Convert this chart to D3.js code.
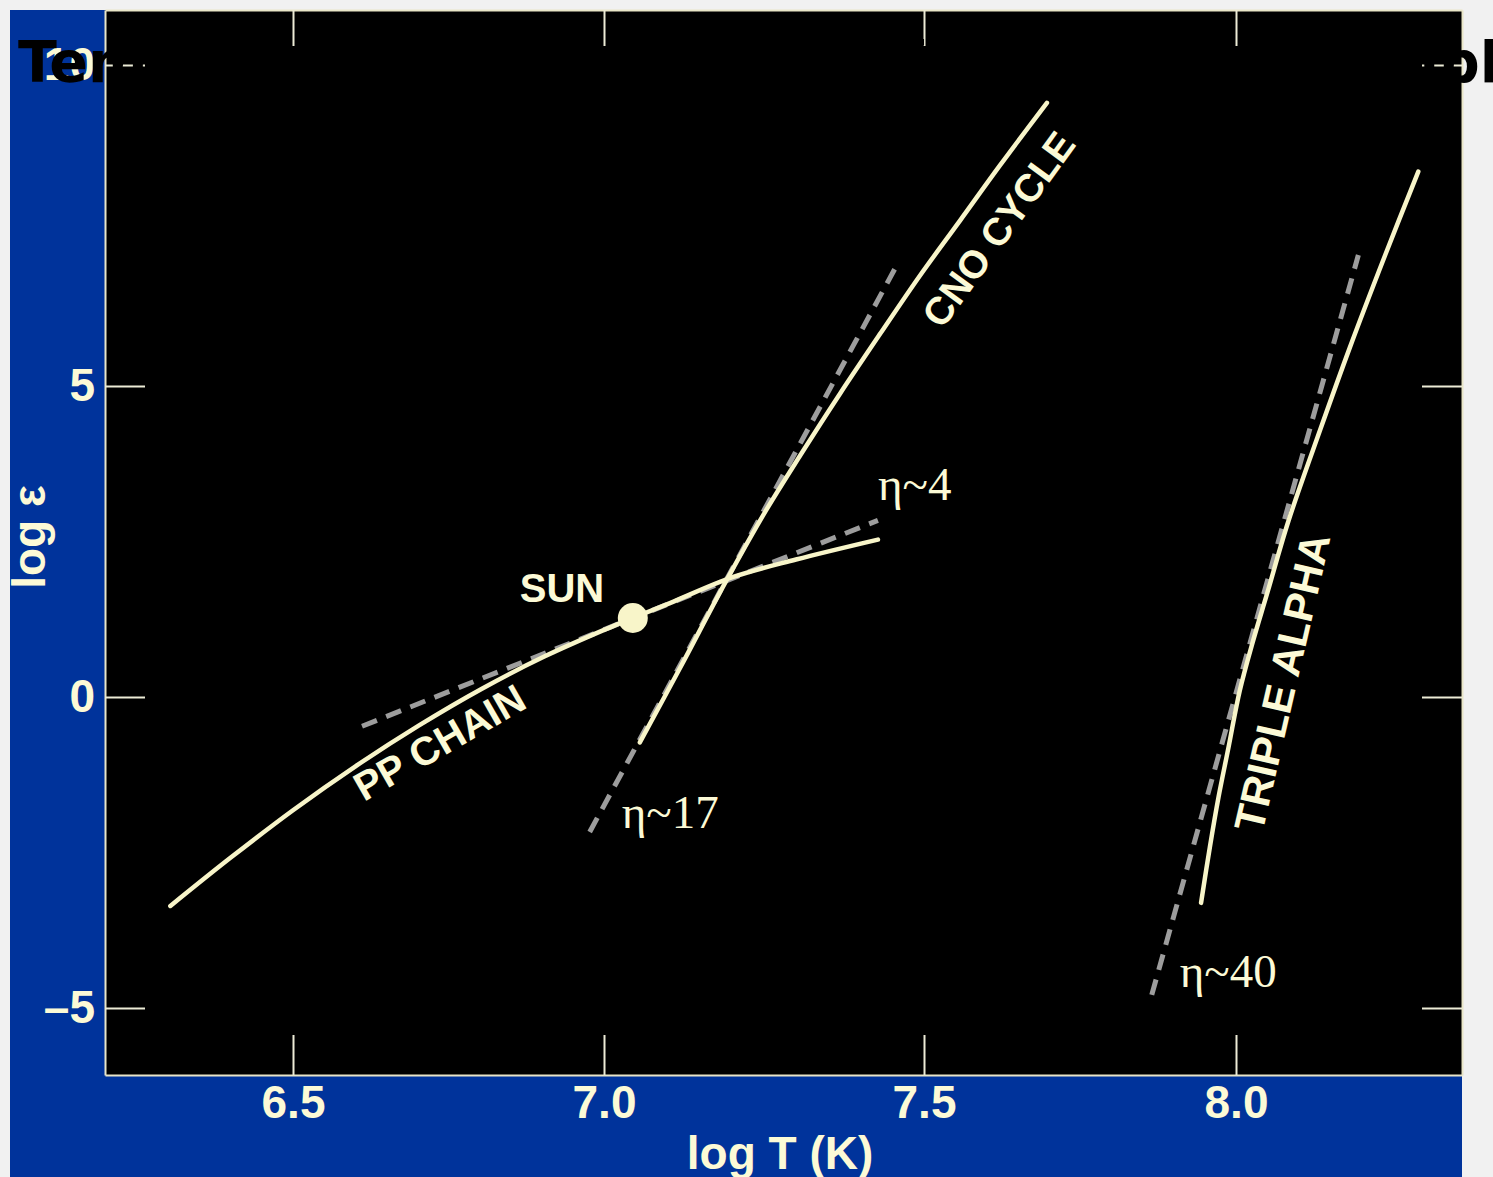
<!DOCTYPE html>
<html>
<head>
<meta charset="utf-8">
<script src="https://cdn.jsdelivr.net/npm/d3@7"></script>
<style>
  html, body { margin: 0; padding: 0; background: #f1f1f1; overflow: hidden; }
  svg { display: block; }
</style>
</head>
<body>
<svg id="chart" width="1493" height="1177"></svg>
<script>
// ---- values: log T (K) vs log epsilon ----
const ppLogT  = [6.303, 6.399, 6.50, 6.601, 6.702, 6.803, 6.904, 7.005, 7.045, 7.103, 7.202, 7.300, 7.428];
const ppLogE  = [-3.36, -2.59, -1.82, -1.11, -0.46, 0.13, 0.65, 1.10, 1.27, 1.51, 1.93, 2.21, 2.53];

const cnoLogT = [7.056, 7.119, 7.189, 7.252, 7.307, 7.369, 7.432, 7.493, 7.558, 7.622, 7.697];
const cnoLogE = [-0.73, 0.47, 1.83, 2.98, 3.89, 4.88, 5.82, 6.71, 7.58, 8.44, 9.41];

const taLogT  = [7.944, 7.958, 7.972, 7.988, 8.006, 8.027, 8.050, 8.084, 8.135, 8.182, 8.239, 8.292];
const taLogE  = [-3.31, -2.42, -1.61, -0.81, 0.10, 0.89, 1.67, 2.83, 4.30, 5.59, 7.04, 8.34];

// power-law tangents (log eps ~ eta * log T)
const ppFitT  = [6.611, 7.428]; const ppFitE  = [-0.47, 2.84];
const cnoFitT = [6.977, 7.458]; const cnoFitE = [-2.17, 6.89];
const taFitT  = [7.865, 8.196]; const taFitE  = [-4.79, 7.04];

const sunLogT = 7.045, sunLogE = 1.27;

const xTicks = [6.5, 7.0, 7.5, 8.0];
const xTickLabels = ["6.5", "7.0", "7.5", "8.0"];
const yTicks = [-5, 0, 5, 10];
const yTickLabels = ["\u20135", "0", "5", "10"];

const etaLabels = ["\u03b7~4", "\u03b7~17", "\u03b7~40"];
const curveNames = ["PP CHAIN", "CNO CYCLE", "TRIPLE ALPHA"];

// ---- drawing ----
const svg = d3.select("#chart");
const cream = "#f8f5c9";
const creamText = "#fcfad6";
const dashGrey = "#9d9d9d";
const sans = "'Liberation Sans', Arial, Helvetica, sans-serif";
const serif = "'Liberation Serif', 'Times New Roman', serif";

const plot = { left: 105, top: 10, right: 1462, bottom: 1075 };

// the printed axes are slightly uneven, so the scales are piecewise linear
const x = d3.scaleLinear()
  .domain([6.198, 6.5, 7.0, 7.5, 8.0, 8.362])
  .range([plot.left, 293, 604, 924, 1236, plot.right]);
const y = d3.scaleLinear()
  .domain([-6.077, -5, 0, 5, 10, 10.857])
  .range([plot.bottom, 1008, 697, 386, 65, plot.top]);

// blue backing panel
svg.append("rect")
  .attr("x", 10).attr("y", 10).attr("width", 1452).attr("height", 1167)
  .attr("fill", "#00339b");

// black plotting area
svg.append("rect")
  .attr("x", plot.left).attr("y", plot.top)
  .attr("width", plot.right - plot.left).attr("height", plot.bottom - plot.top)
  .attr("fill", "#000");

// axes with inward ticks on all four sides
function styleAxis(g) {
  g.select(".domain").attr("stroke", "#e9e6c8").attr("stroke-width", 2);
  g.selectAll(".tick line").attr("stroke", "#ecebd6").attr("stroke-width", 2);
  g.selectAll(".tick text")
    .attr("fill", creamText)
    .attr("font-family", sans)
    .attr("font-weight", "bold")
    .attr("font-size", 46);
}

svg.append("g")
  .attr("transform", `translate(0,${plot.bottom})`)
  .call(d3.axisBottom(x).tickValues(xTicks)
        .tickFormat((d, i) => xTickLabels[i])
        .tickSizeInner(-40).tickSizeOuter(0).tickPadding(10))
  .call(styleAxis);

svg.append("g")
  .attr("transform", `translate(0,${plot.top})`)
  .call(d3.axisTop(x).tickValues(xTicks).tickFormat("")
        .tickSizeInner(-36).tickSizeOuter(0))
  .call(styleAxis);

svg.append("g")
  .attr("transform", `translate(${plot.left},0)`)
  .call(d3.axisLeft(y).tickValues(yTicks)
        .tickFormat((d, i) => yTickLabels[i])
        .tickSizeInner(-40).tickSizeOuter(0).tickPadding(10))
  .call(styleAxis);

svg.append("g")
  .attr("transform", `translate(${plot.right},0)`)
  .call(d3.axisRight(y).tickValues(yTicks).tickFormat("")
        .tickSizeInner(-40).tickSizeOuter(0))
  .call(styleAxis);

// axis titles
svg.append("text")
  .attr("x", 780).attr("y", 1169)
  .attr("text-anchor", "middle")
  .attr("fill", creamText)
  .attr("font-family", sans).attr("font-weight", "bold").attr("font-size", 46)
  .text("log T (K)");

svg.append("text")
  .attr("transform", "translate(45,537) rotate(-90)")
  .attr("text-anchor", "middle")
  .attr("fill", creamText)
  .attr("font-family", sans).attr("font-weight", "bold").attr("font-size", 46)
  .text("log \u03b5");

// curves
const zip = (a, b) => a.map((v, i) => [v, b[i]]);
const smooth = d3.line().x(d => x(d[0])).y(d => y(d[1])).curve(d3.curveCatmullRom.alpha(0.5));
const straight = d3.line().x(d => x(d[0])).y(d => y(d[1]));

const plotG = svg.append("g");

// dashed power-law approximations
[[ppFitT, ppFitE], [cnoFitT, cnoFitE], [taFitT, taFitE]].forEach(([t, e]) => {
  plotG.append("path")
    .attr("d", straight(zip(t, e)))
    .attr("fill", "none")
    .attr("stroke", dashGrey)
    .attr("stroke-width", 5)
    .attr("stroke-dasharray", "16,10");
});

// rate curves
[[ppLogT, ppLogE], [cnoLogT, cnoLogE], [taLogT, taLogE]].forEach(([t, e]) => {
  plotG.append("path")
    .attr("d", smooth(zip(t, e)))
    .attr("fill", "none")
    .attr("stroke", cream)
    .attr("stroke-width", 4.5)
    .attr("stroke-linecap", "round");
});

// the Sun
plotG.append("circle")
  .attr("cx", x(sunLogT)).attr("cy", y(sunLogE)).attr("r", 15)
  .attr("fill", cream);

plotG.append("text")
  .attr("x", x(sunLogT) - 113).attr("y", y(sunLogE) - 16)
  .attr("fill", creamText)
  .attr("font-family", sans).attr("font-weight", "bold").attr("font-size", 40)
  .text("SUN");

// eta labels, placed next to the ends of the dashed tangents
const etaPos = [
  [x(ppFitT[1]), y(ppFitE[1]) - 20],
  [x(cnoFitT[0]) + 32, y(cnoFitE[0]) - 4],
  [x(taFitT[0]) + 28, y(taFitE[0]) - 8]
];
etaLabels.forEach((txt, i) => {
  plotG.append("text")
    .attr("x", etaPos[i][0]).attr("y", etaPos[i][1])
    .attr("fill", creamText)
    .attr("font-family", serif).attr("font-size", 47)
    .text(txt);
});

// curve names set along the curves
const namePos = [
  { t: 6.614, e: -1.69, rot: -30, size: 40 },
  { t: 7.529, e: 5.87,  rot: -54, size: 39 },
  { t: 8.042, e: -2.20, rot: -77, size: 42 }
];
curveNames.forEach((txt, i) => {
  const p = namePos[i];
  plotG.append("text")
    .attr("transform", `translate(${x(p.t)},${y(p.e)}) rotate(${p.rot})`)
    .attr("fill", creamText)
    .attr("font-family", sans).attr("font-weight", "bold").attr("font-size", p.size)
    .text(txt);
});

// page heading, printed over the figure
svg.append("text")
  .attr("x", 18).attr("y", 82)
  .attr("fill", "#000")
  .attr("font-family", "'DejaVu Sans', Verdana, sans-serif")
  .attr("font-weight", "bold").attr("font-size", 57)
  .text("Temperature dependence of pp, CNO and triple alpha");
</script>
</body>
</html>
